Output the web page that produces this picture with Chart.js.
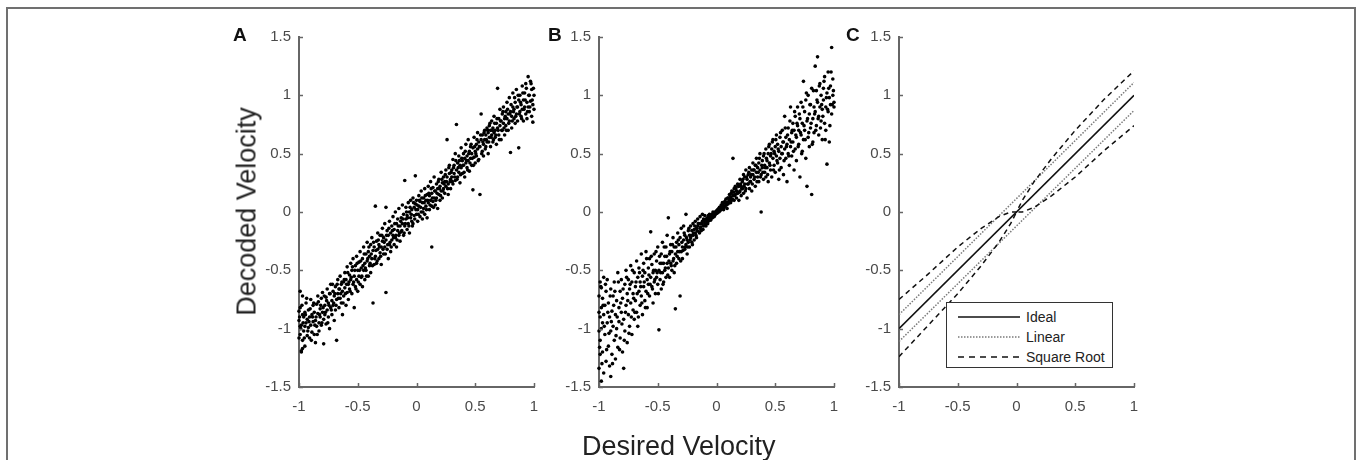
<!DOCTYPE html>
<html><head><meta charset="utf-8">
<script src="https://cdn.jsdelivr.net/npm/chart.js@4.4.0/dist/chart.umd.min.js"></script>
<style>
html,body{margin:0;padding:0;background:#fff;width:1357px;height:460px;overflow:hidden;font-family:"Liberation Sans",Arial,sans-serif;position:relative}
#frame{position:absolute;left:6px;top:7px;width:1346px;height:480px;border:2px solid #707070}
canvas.cv{position:absolute;top:20px}
.letter{position:absolute;top:25px;font:bold 19px "Liberation Sans",Arial,sans-serif;line-height:19px;color:#111}
.title{position:absolute;font:27px "Liberation Sans",Arial,sans-serif;line-height:27px;color:#222;white-space:nowrap}
#legend{position:absolute;left:946px;top:302px;width:165px;height:64px;border:1.5px solid #333;background:#fff}
.lrow{position:absolute;left:0;height:20px;width:165px}
.lrow svg{position:absolute;left:10px;top:0}
.lrow span{position:absolute;left:79px;top:2px;font:14px "Liberation Sans",Arial,sans-serif;line-height:16px;color:#222;white-space:nowrap}
</style></head>
<body>
<div id="frame"></div>
<canvas id="cA" class="cv" width="320" height="420" style="left:230px"></canvas>
<canvas id="cB" class="cv" width="320" height="420" style="left:530px"></canvas>
<canvas id="cC" class="cv" width="320" height="420" style="left:830px"></canvas>
<div class="letter" style="left:233px">A</div>
<div class="letter" style="left:548px">B</div>
<div class="letter" style="left:846px">C</div>
<div class="title" id="ytitle" style="left:97px;top:198px;width:300px;text-align:center;transform:rotate(-90deg)">Decoded Velocity</div>
<div class="title" style="left:582px;top:433px">Desired Velocity</div>
<div id="legend"></div>
<script>
// ---- tick values ----
const xTicks = [-1, -0.5, 0, 0.5, 1];
const yTicks = [-1.5, -1, -0.5, 0, 0.5, 1, 1.5];

// ---- Panel A: decoded vs desired velocity (linear noise model) ----
const panelA = [
[-1,-0.93],[-0.99,-1.05],[-0.99,-0.82],[-0.98,-1.19],[-0.98,-0.97],[-0.97,-0.72],[-0.97,-1.1],[-0.96,-0.9],[-0.96,-1.02],[-0.95,-0.86],[-0.95,-1.15],[-0.94,-0.95],[-0.94,-0.78],[-0.93,-1.06],[-0.93,-0.92],[-0.92,-0.99],[-0.92,-0.84],[-0.91,-1.08],[-0.91,-0.9],[-0.9,-0.75],[-0.9,-0.97],[-0.89,-1.03],[-0.89,-0.88],[-0.88,-0.8],[-0.88,-0.94],[-0.87,-1.05],[-0.87,-0.86],[-0.86,-1.12],[-0.86,-0.93],[-0.85,-0.79],[-0.85,-0.98],[-0.84,-0.87],[-0.84,-0.72],[-0.83,-0.95],[-0.83,-1.02],[-0.82,-0.83],[-0.82,-0.9],[-0.81,-0.74],[-0.81,-0.97],[-0.8,-0.86],[-0.8,-0.69],[-0.79,-1.13],[-0.79,-0.92],[-0.78,-0.8],[-0.78,-0.88],[-0.77,-0.73],[-0.77,-0.96],[-0.76,-0.84],[-0.76,-0.66],[-0.75,-0.9],[-0.75,-0.78],[-0.74,-1.0],[-0.74,-0.7],[-0.73,-0.82],[-0.73,-0.62],[-0.72,-0.76],[-0.72,-0.88],[-0.71,-0.68],[-0.71,-0.8],[-0.7,-0.93],[-0.7,-0.72],[-0.69,-0.64],[-0.69,-0.84],[-0.68,-1.1],[-0.68,-0.75],[-0.67,-0.58],[-0.67,-0.7],[-0.66,-0.82],[-0.66,-0.66],[-0.65,-0.74],[-0.65,-0.55],[-0.64,-0.62],[-0.64,-0.78],[-0.63,-0.68],[-0.63,-0.88],[-0.62,-0.6],[-0.62,-0.72],[-0.61,-0.52],[-0.61,-0.65],[-0.6,-0.8],[-0.6,-0.58],[-0.59,-0.69],[-0.59,-0.47],[-0.58,-0.62],[-0.58,-0.75],[-0.57,-0.54],[-0.57,-0.66],[-0.56,-0.44],[-0.56,-0.58],[-0.55,-0.7],[-0.55,-0.5],[-0.54,-0.62],[-0.54,-0.4],[-0.53,-0.82],[-0.53,-0.55],[-0.52,-0.64],[-0.52,-0.46],[-0.51,-0.58],[-0.51,-0.38],[-0.5,-0.5],[-0.5,-0.68],[-0.49,-0.43],[-0.49,-0.55],[-0.48,-0.62],[-0.48,-0.34],[-0.47,-0.48],[-0.47,-0.56],[-0.46,-0.4],[-0.46,-0.64],[-0.45,-0.5],[-0.45,-0.3],[-0.44,-0.44],[-0.44,-0.58],[-0.43,-0.36],[-0.43,-0.5],[-0.42,-0.26],[-0.42,-0.42],[-0.41,-0.55],[-0.41,-0.34],[-0.4,-0.46],[-0.4,-0.38],[-0.39,-0.28],[-0.39,-0.52],[-0.38,-0.4],[-0.38,-0.22],[-0.37,-0.78],[-0.37,-0.33],[-0.36,-0.45],[-0.36,-0.3],[-0.35,0.05],[-0.35,-0.38],[-0.34,-0.25],[-0.34,-0.44],[-0.33,-0.32],[-0.33,-0.18],[-0.32,-0.4],[-0.32,-0.28],[-0.31,-0.35],[-0.31,-0.2],[-0.3,-0.3],[-0.3,-0.45],[-0.29,-0.14],[-0.29,-0.25],[-0.28,-0.36],[-0.28,-0.22],[-0.27,-0.3],[-0.27,-0.1],[-0.26,-0.69],[-0.26,0.04],[-0.26,-0.24],[-0.25,-0.32],[-0.25,-0.16],[-0.24,-0.4],[-0.24,-0.2],[-0.23,-0.28],[-0.23,-0.08],[-0.22,-0.18],[-0.22,-0.34],[-0.21,-0.24],[-0.21,-0.12],[-0.2,-0.2],[-0.2,-0.04],[-0.19,-0.28],[-0.19,-0.15],[-0.18,-0.22],[-0.18,0.0],[-0.17,-0.1],[-0.17,-0.3],[-0.16,-0.16],[-0.16,-0.06],[-0.15,-0.2],[-0.15,0.03],[-0.14,-0.12],[-0.14,-0.25],[-0.13,-0.05],[-0.13,-0.17],[-0.12,0.06],[-0.12,-0.1],[-0.11,-0.2],[-0.11,-0.02],[-0.1,0.27],[-0.1,-0.12],[-0.09,-0.06],[-0.09,0.04],[-0.08,-0.15],[-0.08,-0.03],[-0.07,0.08],[-0.07,-0.1],[-0.06,0.0],[-0.06,-0.18],[-0.05,-0.05],[-0.05,0.1],[-0.04,-0.08],[-0.04,0.02],[-0.03,0.12],[-0.03,-0.1],[-0.02,0.04],[-0.02,-0.03],[-0.01,0.31],[-0.01,0.07],[0,-0.02],[0,0.1],[0.01,0.02],[0.01,-0.08],[0.02,0.14],[0.02,0.05],[0.03,-0.04],[0.03,0.09],[0.04,0.18],[0.04,0.0],[0.05,0.08],[0.05,-0.06],[0.06,0.12],[0.06,0.03],[0.07,0.2],[0.07,-0.02],[0.08,0.1],[0.08,0.05],[0.09,0.15],[0.09,-0.05],[0.1,0.08],[0.1,0.22],[0.11,0.02],[0.11,0.14],[0.12,0.1],[0.12,0.26],[0.13,-0.3],[0.13,0.05],[0.13,0.16],[0.14,0.21],[0.14,0.09],[0.15,0.12],[0.15,0.3],[0.16,0.06],[0.16,0.18],[0.17,0.24],[0.17,0.12],[0.18,0.2],[0.18,0.03],[0.19,0.15],[0.19,0.28],[0.2,0.22],[0.2,0.1],[0.21,0.18],[0.21,0.34],[0.22,0.25],[0.22,0.12],[0.23,0.2],[0.23,0.3],[0.24,0.16],[0.24,0.26],[0.25,0.36],[0.25,0.22],[0.26,0.62],[0.26,0.3],[0.27,0.15],[0.27,0.24],[0.28,0.33],[0.28,0.4],[0.29,0.28],[0.29,0.2],[0.3,0.36],[0.3,0.3],[0.31,0.45],[0.31,0.24],[0.32,0.33],[0.32,0.4],[0.33,0.27],[0.33,0.5],[0.34,0.75],[0.34,0.36],[0.35,0.42],[0.35,0.3],[0.36,0.34],[0.36,0.48],[0.37,0.4],[0.37,0.25],[0.38,0.38],[0.38,0.55],[0.39,0.44],[0.39,0.33],[0.4,0.4],[0.4,0.5],[0.41,0.46],[0.41,0.3],[0.42,0.42],[0.42,0.58],[0.43,0.48],[0.43,0.38],[0.44,0.44],[0.44,0.62],[0.45,0.52],[0.45,0.35],[0.46,0.46],[0.46,0.56],[0.47,0.5],[0.47,0.4],[0.48,0.19],[0.48,0.55],[0.49,0.47],[0.49,0.64],[0.5,0.52],[0.5,0.42],[0.51,0.58],[0.51,0.48],[0.52,0.54],[0.52,0.68],[0.53,0.6],[0.53,0.45],[0.54,0.15],[0.54,0.56],[0.55,0.84],[0.55,0.62],[0.56,0.52],[0.56,0.66],[0.57,0.58],[0.57,0.48],[0.58,0.62],[0.58,0.7],[0.59,0.56],[0.59,0.66],[0.6,0.72],[0.6,0.6],[0.61,0.5],[0.61,0.68],[0.62,0.74],[0.62,0.64],[0.63,0.7],[0.63,0.56],[0.64,0.66],[0.64,0.78],[0.65,0.72],[0.65,0.6],[0.66,0.68],[0.66,0.82],[0.67,0.7],[0.67,0.64],[0.68,0.76],[0.68,0.58],[0.69,1.06],[0.69,0.72],[0.7,0.8],[0.7,0.66],[0.71,0.74],[0.71,0.88],[0.72,0.78],[0.72,0.62],[0.73,0.7],[0.73,0.84],[0.74,0.9],[0.74,0.76],[0.75,0.8],[0.75,0.66],[0.76,0.86],[0.76,0.74],[0.77,0.94],[0.77,0.8],[0.78,0.7],[0.78,0.84],[0.79,0.78],[0.79,0.98],[0.8,0.51],[0.8,0.86],[0.81,0.82],[0.81,0.72],[0.82,0.9],[0.82,1.02],[0.83,0.8],[0.83,0.88],[0.84,0.94],[0.84,0.76],[0.85,0.84],[0.85,1.05],[0.86,0.9],[0.86,0.78],[0.87,0.55],[0.87,0.96],[0.88,0.86],[0.88,1.0],[0.89,0.82],[0.89,0.92],[0.9,1.08],[0.9,0.88],[0.91,0.78],[0.91,0.96],[0.92,0.9],[0.92,1.02],[0.93,0.84],[0.93,1.1],[0.94,0.94],[0.94,0.8],[0.95,1.16],[0.95,0.9],[0.96,1.0],[0.96,0.86],[0.97,1.12],[0.97,0.95],[0.98,0.82],[0.98,1.05],[0.99,0.92],[0.99,0.77],[1,1.0],[1,0.88],
[-0.98,-1.2],[-0.97,-1.17],[-1,-1.08],[-0.99,-0.68],[-1,-0.85],[-0.99,-0.98],[-0.97,-0.88],[-0.95,-0.98],
[-0.995,-0.9],[-0.985,-1.0],[-0.975,-0.8],[-0.965,-0.95],[-0.955,-1.08],[-0.945,-0.88],[-0.935,-0.74],[-0.925,-1.02],[-0.915,-0.94],[-0.905,-0.83],[-0.895,-1.1],[-0.885,-0.9],[-0.875,-0.78],[-0.865,-0.97],[-0.855,-0.9],[-0.845,-1.05],[-0.835,-0.77],[-0.825,-0.88],[-0.815,-0.8],[-0.805,-0.95],[-0.795,-0.82],[-0.785,-0.72],[-0.775,-0.86],[-0.765,-0.76],[-0.755,-0.95],[-0.745,-0.8],[-0.735,-0.7],[-0.725,-0.84],[-0.715,-0.62],[-0.705,-0.78],[-0.695,-0.7],[-0.685,-0.8],[-0.675,-0.62],[-0.665,-0.74],[-0.655,-0.66],[-0.645,-0.7],[-0.635,-0.6],[-0.625,-0.78],[-0.615,-0.58],[-0.605,-0.7],[-0.595,-0.62],[-0.585,-0.52],[-0.575,-0.6],[-0.565,-0.68],[-0.555,-0.56],[-0.545,-0.47],[-0.535,-0.6],[-0.525,-0.5],[-0.515,-0.66],[-0.505,-0.44],[-0.495,-0.6],[-0.485,-0.5],[-0.475,-0.42],[-0.465,-0.55],[-0.455,-0.46],[-0.445,-0.36],[-0.435,-0.48],[-0.425,-0.55],[-0.415,-0.4],[-0.405,-0.3],[-0.395,-0.44],[-0.385,-0.36],[-0.375,-0.46],[-0.365,-0.26],[-0.355,-0.4],[-0.345,-0.33],[-0.335,-0.42],[-0.325,-0.24],[-0.315,-0.3],[-0.305,-0.38],[-0.295,-0.2],[-0.285,-0.32],[-0.275,-0.26],[-0.265,-0.36],[-0.255,-0.2],[-0.245,-0.28],[-0.235,-0.14],[-0.225,-0.26],[-0.215,-0.3],[-0.205,-0.16],[-0.195,-0.22],[-0.185,-0.1],[-0.175,-0.2],[-0.165,-0.24],[-0.155,-0.12],[-0.145,-0.18],[-0.135,-0.08],[-0.125,-0.16],[-0.115,-0.06],[-0.105,-0.18],[-0.095,-0.1],[-0.085,0.0],[-0.075,-0.05],[-0.065,-0.12],[-0.055,0.04],[-0.045,-0.02],[-0.035,-0.12],[-0.025,0.08],[-0.015,-0.06],[-0.005,0.02],[0.005,0.06],[0.015,-0.02],[0.025,0.1],[0.035,0.04],[0.045,0.12],[0.055,0.0],[0.065,0.08],[0.075,0.14],[0.085,0.02],[0.095,0.1],[0.105,0.16],[0.115,0.06],[0.125,0.2],[0.135,0.12],[0.145,0.04],[0.155,0.18],[0.165,0.1],[0.175,0.16],[0.185,0.26],[0.195,0.2],[0.205,0.14],[0.215,0.28],[0.225,0.18],[0.235,0.24],[0.245,0.32],[0.255,0.26],[0.265,0.2],[0.275,0.38],[0.285,0.26],[0.295,0.34],[0.305,0.26],[0.315,0.38],[0.325,0.3],[0.335,0.44],[0.345,0.28],[0.355,0.38],[0.365,0.44],[0.375,0.32],[0.385,0.46],[0.395,0.4],[0.405,0.34],[0.415,0.52],[0.425,0.44],[0.435,0.36],[0.445,0.5],[0.455,0.42],[0.465,0.58],[0.475,0.46],[0.485,0.4],[0.495,0.56],[0.505,0.5],[0.515,0.62],[0.525,0.44],[0.535,0.56],[0.545,0.66],[0.555,0.5],[0.565,0.6],[0.575,0.68],[0.585,0.54],[0.595,0.62],[0.605,0.7],[0.615,0.6],[0.625,0.76],[0.635,0.64],[0.645,0.7],[0.655,0.62],[0.665,0.76],[0.675,0.66],[0.685,0.8],[0.695,0.7],[0.705,0.62],[0.715,0.78],[0.725,0.7],[0.735,0.86],[0.745,0.72],[0.755,0.82],[0.765,0.7],[0.775,0.88],[0.785,0.76],[0.795,0.84],[0.805,0.92],[0.815,0.78],[0.825,0.86],[0.835,0.98],[0.845,0.82],[0.855,0.9],[0.865,1.0],[0.875,0.84],[0.885,0.94],[0.895,0.8],[0.905,1.02],[0.915,0.88],[0.925,0.96],[0.935,1.06],[0.945,0.86],[0.955,1.0],[0.965,0.9],[0.975,1.1],[0.985,0.96],[0.995,1.06]
];

// ---- Panel B: decoded vs desired velocity (square-root noise model) ----
const panelB = [
[-1,-0.72],[-1,-1.34],[-0.99,-0.9],[-0.99,-1.1],[-0.99,-0.6],[-0.98,-0.82],[-0.98,-1.45],[-0.98,-1.0],[-0.97,-0.74],[-0.97,-1.2],[-0.96,-0.88],[-0.96,-0.56],[-0.95,-1.05],[-0.95,-0.8],[-0.94,-1.28],[-0.94,-0.68],[-0.93,-0.95],[-0.93,-0.58],[-0.92,-1.15],[-0.92,-0.78],[-0.91,-1.32],[-0.91,-0.9],[-0.9,-1.41],[-0.9,-0.66],[-0.9,-1.02],[-0.89,-0.85],[-0.89,-1.22],[-0.88,-0.72],[-0.88,-0.98],[-0.87,-1.1],[-0.87,-0.6],[-0.86,-0.88],[-0.86,-1.26],[-0.85,-0.76],[-0.85,-1.0],[-0.84,-0.52],[-0.84,-1.16],[-0.83,-0.82],[-0.83,-0.94],[-0.82,-0.68],[-0.82,-1.08],[-0.81,-0.58],[-0.81,-0.86],[-0.8,-1.2],[-0.8,-0.74],[-0.79,-1.34],[-0.79,-0.92],[-0.78,-0.62],[-0.78,-1.02],[-0.77,-0.8],[-0.77,-0.5],[-0.76,-1.12],[-0.76,-0.7],[-0.75,-0.88],[-0.75,-0.58],[-0.74,-0.98],[-0.74,-0.66],[-0.73,-0.78],[-0.73,-0.46],[-0.72,-1.05],[-0.72,-0.6],[-0.71,-0.84],[-0.71,-0.7],[-0.7,-0.52],[-0.7,-0.92],[-0.69,-0.64],[-0.69,-0.76],[-0.68,-0.42],[-0.68,-0.86],[-0.67,-0.56],[-0.67,-0.98],[-0.66,-0.68],[-0.66,-0.48],[-0.65,-0.8],[-0.65,-0.6],[-0.64,-0.36],[-0.64,-0.72],[-0.63,-0.88],[-0.63,-0.55],[-0.62,-0.64],[-0.62,-0.44],[-0.61,-0.76],[-0.61,-0.52],[-0.6,-0.68],[-0.6,-0.34],[-0.59,-0.58],[-0.59,-0.82],[-0.58,-0.48],[-0.58,-0.62],[-0.57,-0.72],[-0.57,-0.4],[-0.56,-0.17],[-0.56,-0.56],[-0.55,-0.64],[-0.55,-0.45],[-0.54,-0.78],[-0.54,-0.52],[-0.53,-0.36],[-0.53,-0.6],[-0.52,-0.5],[-0.52,-0.7],[-0.51,-0.42],[-0.51,-0.56],[-0.5,-0.3],[-0.5,-0.62],[-0.49,-1.01],[-0.49,-0.5],[-0.48,-0.44],[-0.48,-0.58],[-0.47,-0.36],[-0.47,-0.66],[-0.46,-0.52],[-0.46,-0.26],[-0.45,-0.44],[-0.45,-0.6],[-0.44,-0.38],[-0.44,-0.5],[-0.43,-0.3],[-0.43,-0.56],[-0.42,-0.44],[-0.42,-0.2],[-0.41,-0.05],[-0.41,-0.48],[-0.4,-0.36],[-0.4,-0.56],[-0.39,-0.28],[-0.39,-0.44],[-0.38,-0.5],[-0.38,-0.34],[-0.37,-0.22],[-0.37,-0.42],[-0.36,-0.3],[-0.36,-0.52],[-0.35,-0.83],[-0.35,-0.36],[-0.34,-0.26],[-0.34,-0.44],[-0.33,-0.18],[-0.33,-0.34],[-0.32,-0.4],[-0.32,-0.28],[-0.31,-0.72],[-0.31,-0.22],[-0.3,-0.34],[-0.3,-0.14],[-0.29,-0.3],[-0.29,-0.4],[-0.28,-0.24],[-0.28,-0.12],[-0.27,-0.32],[-0.27,-0.2],[-0.26,-0.02],[-0.26,-0.28],[-0.25,-0.24],[-0.25,-0.36],[-0.24,-0.16],[-0.24,-0.26],[-0.23,-0.2],[-0.23,-0.3],[-0.22,-0.12],[-0.22,-0.22],[-0.21,-0.26],[-0.21,-0.16],[-0.2,-0.2],[-0.2,-0.1],[-0.19,-0.24],[-0.19,-0.15],[-0.18,-0.18],[-0.18,-0.08],[-0.17,-0.14],[-0.17,-0.22],[-0.16,-0.12],[-0.16,-0.06],[-0.15,-0.17],[-0.15,-0.1],[-0.14,-0.04],[-0.14,-0.14],[-0.13,-0.1],[-0.13,-0.16],[-0.12,-0.08],[-0.12,-0.02],[-0.11,-0.12],[-0.11,-0.06],[-0.1,-0.1],[-0.1,-0.03],[-0.09,-0.07],[-0.09,-0.12],[-0.08,-0.05],[-0.08,-0.09],[-0.07,-0.03],[-0.07,-0.08],[-0.06,-0.06],[-0.06,-0.02],[-0.05,-0.04],[-0.05,-0.07],[-0.04,-0.02],[-0.04,-0.05],[-0.03,-0.03],[-0.03,0.0],[-0.02,-0.01],[-0.02,-0.04],[-0.01,0.0],[-0.01,-0.02],[0,0.01],[0,-0.01],[0.01,0.02],[0.01,0.0],[0.02,0.03],[0.02,0.0],[0.03,0.04],[0.03,0.01],[0.04,0.03],[0.04,0.06],[0.05,0.04],[0.05,0.08],[0.06,0.05],[0.06,0.02],[0.07,0.09],[0.07,0.05],[0.08,0.06],[0.08,0.11],[0.09,0.08],[0.09,0.03],[0.1,0.12],[0.1,0.07],[0.11,0.1],[0.11,0.15],[0.12,0.08],[0.12,0.13],[0.13,0.18],[0.13,0.1],[0.14,0.46],[0.14,0.14],[0.15,0.2],[0.15,0.1],[0.16,0.15],[0.16,0.22],[0.17,0.12],[0.17,0.18],[0.18,0.24],[0.18,0.16],[0.19,0.1],[0.19,0.22],[0.2,0.18],[0.2,0.28],[0.21,0.22],[0.21,0.14],[0.22,0.26],[0.22,0.2],[0.23,0.32],[0.23,0.16],[0.24,0.24],[0.24,0.3],[0.25,0.2],[0.25,0.36],[0.26,0.28],[0.26,0.12],[0.27,0.32],[0.27,0.24],[0.28,0.38],[0.28,0.2],[0.29,0.3],[0.29,0.26],[0.3,0.36],[0.3,0.18],[0.31,0.32],[0.31,0.42],[0.32,0.28],[0.32,0.36],[0.33,0.22],[0.33,0.4],[0.34,0.34],[0.34,0.46],[0.35,0.3],[0.35,0.38],[0.36,0.42],[0.36,0.26],[0.37,0.36],[0.37,0.5],[0.38,0.0],[0.38,0.32],[0.39,0.44],[0.39,0.38],[0.4,0.28],[0.4,0.48],[0.41,0.4],[0.41,0.34],[0.42,0.54],[0.42,0.3],[0.43,0.44],[0.43,0.38],[0.44,0.5],[0.44,0.26],[0.45,0.42],[0.45,0.58],[0.46,0.36],[0.46,0.48],[0.47,0.54],[0.47,0.3],[0.48,0.46],[0.48,0.62],[0.49,0.4],[0.49,0.52],[0.5,0.34],[0.5,0.56],[0.51,0.48],[0.51,0.66],[0.52,0.42],[0.52,0.58],[0.53,0.28],[0.53,0.52],[0.54,0.64],[0.54,0.46],[0.55,0.56],[0.55,0.38],[0.56,0.7],[0.56,0.5],[0.57,0.6],[0.57,0.32],[0.58,0.54],[0.58,0.82],[0.59,0.46],[0.59,0.64],[0.6,0.58],[0.6,0.26],[0.61,0.72],[0.61,0.5],[0.62,0.62],[0.62,0.4],[0.63,0.9],[0.63,0.56],[0.64,0.68],[0.64,0.48],[0.65,0.76],[0.65,0.6],[0.66,0.36],[0.66,0.7],[0.67,0.82],[0.67,0.54],[0.68,0.64],[0.68,0.44],[0.69,0.74],[0.69,0.9],[0.7,0.58],[0.7,0.7],[0.71,0.3],[0.71,0.8],[0.72,0.66],[0.72,0.94],[0.73,0.52],[0.73,0.76],[0.74,1.12],[0.74,0.62],[0.75,0.86],[0.75,0.7],[0.76,0.46],[0.76,0.96],[0.77,0.22],[0.77,0.78],[0.78,0.64],[0.78,1.0],[0.79,0.84],[0.79,0.56],[0.8,0.92],[0.8,0.72],[0.81,0.15],[0.81,1.06],[0.82,0.8],[0.82,0.6],[0.83,0.9],[0.83,0.68],[0.84,1.25],[0.84,0.86],[0.85,0.74],[0.85,1.04],[0.86,1.33],[0.86,0.94],[0.87,0.66],[0.87,0.82],[0.88,1.1],[0.88,0.9],[0.89,0.78],[0.89,1.0],[0.9,0.62],[0.9,0.88],[0.91,1.06],[0.91,0.96],[0.92,0.76],[0.92,1.16],[0.93,0.9],[0.93,0.7],[0.94,0.41],[0.94,1.02],[0.95,1.2],[0.95,0.86],[0.96,0.98],[0.96,0.6],[0.97,1.08],[0.97,0.92],[0.98,1.41],[0.98,0.84],[0.99,1.0],[0.99,1.14],[1,0.9],[1,0.94],
[-1,-0.86],[-0.99,-1.22],[-0.98,-0.65],[-1,-1.02],[-0.97,-0.95],[-0.96,-1.38],
[-0.995,-1.16],[-0.985,-0.64],[-0.975,-1.3],[-0.965,-0.8],[-0.955,-0.98],[-0.945,-0.62],[-0.935,-1.18],[-0.925,-0.86],[-0.915,-1.04],[-0.905,-0.72],[-0.895,-0.94],[-0.885,-1.3],[-0.875,-0.8],[-0.865,-0.68],[-0.855,-1.06],[-0.845,-0.9],[-0.835,-0.6],[-0.825,-1.18],[-0.815,-0.78],[-0.805,-0.96],[-0.795,-0.66],[-0.785,-1.1],[-0.775,-0.86],[-0.765,-0.56],[-0.755,-0.76],[-0.745,-1.04],[-0.735,-0.62],[-0.725,-0.9],[-0.715,-0.5],[-0.705,-0.74],[-0.695,-0.86],[-0.685,-0.6],[-0.675,-0.7],[-0.665,-0.9],[-0.655,-0.52],[-0.645,-0.64],[-0.635,-0.78],[-0.625,-0.5],[-0.615,-0.6],[-0.605,-0.82],[-0.595,-0.4],[-0.585,-0.7],[-0.575,-0.54],[-0.565,-0.62],[-0.555,-0.38],[-0.545,-0.66],[-0.535,-0.5],[-0.525,-0.58],[-0.515,-0.34],[-0.505,-0.52],[-0.495,-0.7],[-0.485,-0.38],[-0.475,-0.52],[-0.465,-0.44],[-0.455,-0.62],[-0.445,-0.3],[-0.435,-0.48],[-0.425,-0.38],[-0.415,-0.54],[-0.405,-0.42],[-0.395,-0.34],[-0.385,-0.46],[-0.375,-0.28],[-0.365,-0.4],[-0.355,-0.46],[-0.345,-0.3],[-0.335,-0.38],[-0.325,-0.24],[-0.315,-0.34],[-0.305,-0.42],[-0.295,-0.26],[-0.285,-0.33],[-0.275,-0.18],[-0.265,-0.3],[-0.255,-0.22],[-0.245,-0.3],[-0.235,-0.14],[-0.225,-0.24],[-0.215,-0.2],[-0.205,-0.28],[-0.195,-0.18],[-0.185,-0.12],[-0.175,-0.2],[-0.165,-0.16],[-0.155,-0.1],[-0.145,-0.18],[-0.135,-0.13],[-0.125,-0.1],[-0.115,-0.15],[-0.105,-0.08],[-0.095,-0.11],[-0.085,-0.06],[-0.075,-0.1],[-0.065,-0.04],[-0.055,-0.06],[-0.045,-0.03],[-0.035,-0.05],[-0.025,-0.01],[-0.015,-0.03],[-0.005,0.0],[0.005,-0.01],[0.015,0.02],[0.025,0.04],[0.035,0.02],[0.045,0.05],[0.055,0.07],[0.065,0.04],[0.075,0.08],[0.085,0.06],[0.095,0.12],[0.105,0.09],[0.115,0.12],[0.125,0.16],[0.135,0.11],[0.145,0.17],[0.155,0.14],[0.165,0.2],[0.175,0.16],[0.185,0.22],[0.195,0.17],[0.205,0.24],[0.215,0.2],[0.225,0.28],[0.235,0.22],[0.245,0.18],[0.255,0.3],[0.265,0.24],[0.275,0.34],[0.285,0.26],[0.295,0.32],[0.305,0.24],[0.315,0.36],[0.325,0.3],[0.335,0.4],[0.345,0.26],[0.355,0.34],[0.365,0.46],[0.375,0.3],[0.385,0.4],[0.395,0.34],[0.405,0.5],[0.415,0.38],[0.425,0.46],[0.435,0.32],[0.445,0.56],[0.455,0.4],[0.465,0.5],[0.475,0.6],[0.485,0.36],[0.495,0.5],[0.505,0.62],[0.515,0.44],[0.525,0.54],[0.535,0.36],[0.545,0.68],[0.555,0.5],[0.565,0.6],[0.575,0.44],[0.585,0.72],[0.595,0.56],[0.605,0.66],[0.615,0.48],[0.625,0.78],[0.635,0.6],[0.645,0.7],[0.655,0.52],[0.665,0.86],[0.675,0.66],[0.685,0.76],[0.695,0.56],[0.705,0.84],[0.715,0.68],[0.725,0.5],[0.735,0.9],[0.745,0.74],[0.755,0.62],[0.765,1.02],[0.775,0.8],[0.785,0.68],[0.795,0.92],[0.805,0.76],[0.815,0.58],[0.825,1.04],[0.835,0.84],[0.845,0.7],[0.855,0.96],[0.865,0.8],[0.875,1.08],[0.885,0.72],[0.895,0.92],[0.905,0.82],[0.915,1.12],[0.925,0.62],[0.935,0.98],[0.945,0.88],[0.955,1.06],[0.965,0.74],[0.975,1.2],[0.985,0.92],[0.995,1.04]
];

// ---- Panel C: model lines ----
const lineX = [-1, 1];
const idealY = [-1, 1];
const linearUpperY = [-0.88, 1.11];
const linearLowerY = [-1.11, 0.87];
const sqrtX = [-1, -0.75, -0.5, -0.3, -0.15, -0.05, 0, 0.05, 0.15, 0.3, 0.5, 0.75, 1];
const sqrtUpperY = [-0.75, -0.53, -0.3, -0.14, -0.04, 0.0, 0.0, 0.1, 0.26, 0.46, 0.7, 0.97, 1.21];
const sqrtLowerY = [-1.24, -0.97, -0.7, -0.46, -0.26, -0.1, 0.0, 0.0, 0.04, 0.14, 0.3, 0.53, 0.74];
const legendLabels = ['Ideal', 'Linear', 'Square Root'];

const FONT = '"Liberation Sans", Arial, sans-serif';
const AXIS = '#666';
const fmt = v => String(Math.round(v * 10) / 10);
const zip = (xs, ys) => xs.map((x, i) => ({x, y: ys[i]}));

const inwardTicks = {
  id: 'inwardTicks',
  afterDraw(chart) {
    const {ctx, scales: {x, y}, chartArea: a} = chart;
    ctx.save();
    ctx.strokeStyle = AXIS; ctx.lineWidth = 1.5;
    x.ticks.forEach(t => { const p = Math.round(x.getPixelForValue(t.value)) + 0.5; ctx.beginPath(); ctx.moveTo(p, a.bottom); ctx.lineTo(p, a.bottom - 4); ctx.stroke(); });
    y.ticks.forEach(t => { const p = Math.round(y.getPixelForValue(t.value)) + 0.5; ctx.beginPath(); ctx.moveTo(a.left, p); ctx.lineTo(a.left + 4, p); ctx.stroke(); });
    ctx.restore();
  }
};

function makeChart(id, datasets) {
  return new Chart(document.getElementById(id), {
    type: 'scatter',
    data: {datasets},
    options: {
      responsive: false, animation: false, devicePixelRatio: 1,
      layout: {padding: {left: 0, right: 16, top: 14, bottom: 13}},
      plugins: {legend: {display: false}, tooltip: {enabled: false}},
      scales: {
        x: {type: 'linear', min: xTicks[0], max: xTicks[xTicks.length - 1],
            afterBuildTicks: s => { s.ticks = xTicks.map(v => ({value: v})); },
            ticks: {color: '#4a4a4a', font: {size: 15, family: FONT}, padding: 11, maxRotation: 0, autoSkip: false, callback: fmt},
            grid: {display: false, drawTicks: false}, border: {color: AXIS, width: 2},
            afterFit: s => { s.height = 40; }},
        y: {type: 'linear', min: yTicks[0], max: yTicks[yTicks.length - 1],
            afterBuildTicks: s => { s.ticks = yTicks.map(v => ({value: v})); },
            ticks: {color: '#4a4a4a', font: {size: 15, family: FONT}, padding: 8, autoSkip: false, callback: fmt},
            grid: {display: false, drawTicks: false}, border: {color: AXIS, width: 2},
            afterFit: s => { s.width = 69; }}
      }
    },
    plugins: [inwardTicks]
  });
}

const dots = pts => ({data: pts.map(([x, y]) => ({x, y})), pointRadius: 1.8, pointBackgroundColor: '#000', pointBorderWidth: 0, clip: false});

makeChart('cA', [dots(panelA)]);
makeChart('cB', [dots(panelB)]);

const styles = {
  'Ideal': {borderColor: '#111', borderWidth: 1.5, borderDash: []},
  'Linear': {borderColor: '#7a7a7a', borderWidth: 1.5, borderDash: [1.5, 1.5]},
  'Square Root': {borderColor: '#111', borderWidth: 1.5, borderDash: [5, 4]}
};
const lineDs = (label, pts) => Object.assign({label, data: pts, showLine: true, pointRadius: 0, fill: false, tension: 0}, styles[label]);
makeChart('cC', [
  lineDs('Square Root', zip(sqrtX, sqrtUpperY)),
  lineDs('Square Root', zip(sqrtX, sqrtLowerY)),
  lineDs('Linear', zip(lineX, linearUpperY)),
  lineDs('Linear', zip(lineX, linearLowerY)),
  lineDs('Ideal', zip(lineX, idealY))
]);

// HTML legend
const lg = document.getElementById('legend');
legendLabels.forEach((lab, i) => {
  const st = styles[lab];
  const row = document.createElement('div');
  row.className = 'lrow';
  row.style.top = (4 + i * 20) + 'px';
  const dash = st.borderDash.length ? (lab === 'Square Root' ? '6,5' : st.borderDash.join(',')) : 'none';
  row.innerHTML = `<svg width="64" height="20"><line x1="1" y1="10" x2="63" y2="10" stroke="${st.borderColor}" stroke-width="${st.borderWidth}" stroke-dasharray="${dash}"/></svg><span>${lab}</span>`;
  lg.appendChild(row);
});
</script>
</body></html>
